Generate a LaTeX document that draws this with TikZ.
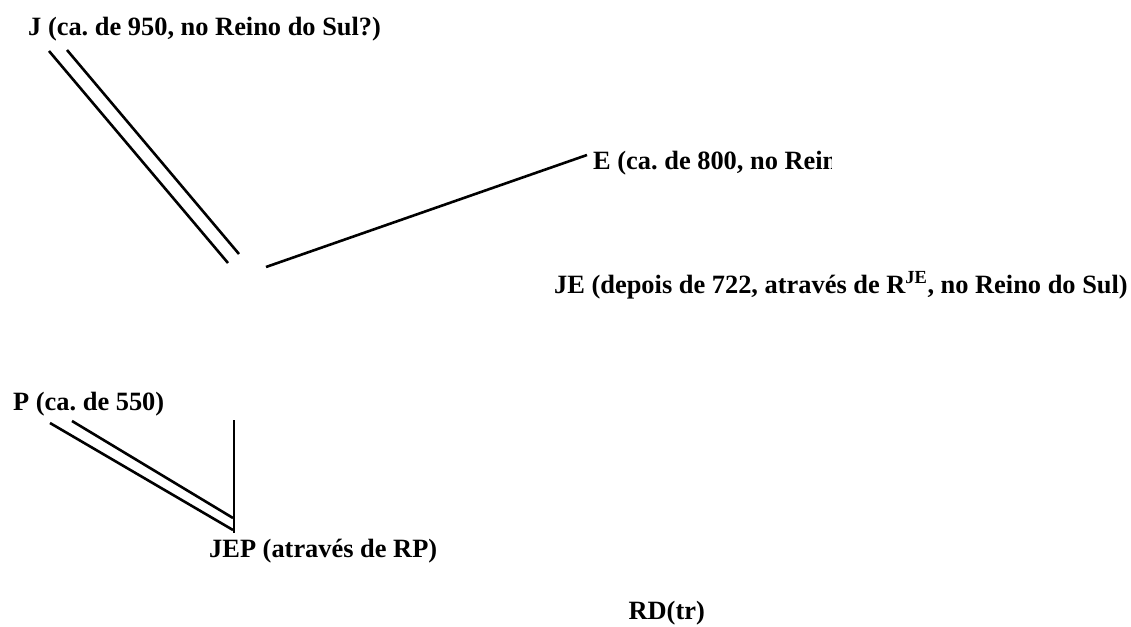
\documentclass[tikz,border=0pt]{standalone}
\usepackage{fontspec}
\setmainfont{Liberation Serif}
\frenchspacing
\begin{document}
\begin{tikzpicture}[x=1pt, y=-1pt, labelStyle/.style={anchor=base west, inner sep=0pt, font=\fontsize{26.4}{30}\selectfont\bfseries}, lineStyle/.style={line width=2.6pt}]
                    \useasboundingbox (0,0) rectangle (1131,626);

                    \node[labelStyle] (J_0)  at (28, 36) {J (ca. de 950, no Reino do Sul?)};
                    \coordinate (J_S0) at ( 49, 51);
                    \coordinate (J_S1) at ( 67, 50);
                    \coordinate (J_E0) at (228, 263);
                    \coordinate (J_E1) at (239, 254);

                    \begin{scope}
                        \clip (593, 140) rectangle (831, 180);
                        \node[labelStyle] (E_0) at (593, 169) {E (ca. de 800, no Rein};
                    \end{scope}
                    \coordinate (E_S0) at (587, 155);
                    \coordinate (E_E0) at (266, 267);

                    \node[labelStyle] (JE_0) at (554, 293) {JE (depois de 722, atrav\'es de R\textsuperscript{JE}, no Reino do Sul)};

                    \node[labelStyle] (P_0)  at (13, 410) {P (ca. de 550)};
                    \coordinate (P_S0) at ( 50, 423);
                    \coordinate (P_S1) at ( 72, 421);
                    \coordinate (P_E0) at (233, 530);
                    \coordinate (P_E1) at (233, 518);
                    \coordinate (V_S0) at (234, 420);
                    \coordinate (V_E0) at (234, 533);

                    \node[labelStyle] (JEP_0) at (209, 557) {JEP (atrav\'es de RP)};
                    \node[labelStyle, anchor=base east] (RD_0) at (705, 619) {RD(tr)};

                    \draw[lineStyle] (J_S0) -- (J_E0);
                    \draw[lineStyle] (J_S1) -- (J_E1);
                    \draw[lineStyle] (E_S0) -- (E_E0);
                    \draw[lineStyle] (P_S0) -- (P_E0);
                    \draw[lineStyle] (P_S1) -- (P_E1);
                    \draw[lineStyle] (V_S0) -- (V_E0);
                \end{tikzpicture}
\end{document}
